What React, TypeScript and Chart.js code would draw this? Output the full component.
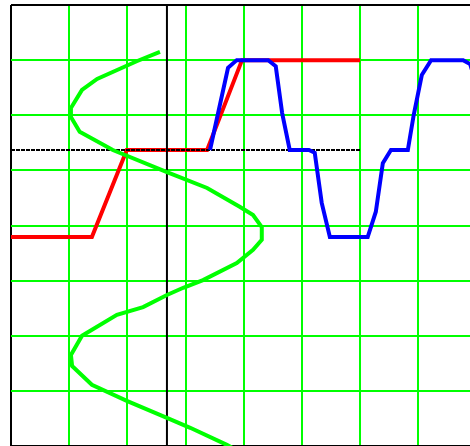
import React, { useEffect, useRef } from "react";
import { Chart, registerables } from "chart.js";

Chart.register(...registerables);

// Plot window (grid units, one grid cell = 1)
const xMin = -2.68;
const xMax = 5.32;
const yMin = -5.37;
const yMax = 2.63;
const gridCells = 8;

// Quantizer characteristic: input -> output level
const quantX = [-2.68, -1.29, -0.69, 0.69, 1.29, 3.32];
const quantY = [-1.58, -1.58, 0, 0, 1.63, 1.63];

// Quantized output against time (time runs to the right)
const outX = [0.74, 1.05, 1.2, 1.74, 1.87, 1.98, 2.11, 2.44, 2.54, 2.66, 2.8, 3.45, 3.59, 3.71, 3.85, 4.14, 4.24, 4.38, 4.54, 5.09, 5.21, 5.4];
const outY = [0, 1.49, 1.63, 1.63, 1.52, 0.67, 0, 0, -0.05, -0.96, -1.58, -1.58, -1.12, -0.24, 0, 0, 0.63, 1.36, 1.63, 1.63, 1.56, 0.9];

// Input signal against time (time runs downward)
const inX = [-0.12, -0.52, -1.2, -1.46, -1.65, -1.65, -1.5, -0.93, 0, 0.69, 1.25, 1.48, 1.63, 1.63, 1.48, 1.2, 0.62, 0.28, 0, -0.41, -0.86, -1.46, -1.65, -1.63, -1.29, -0.69, 0, 0.4, 1.03, 1.34];
const inY = [1.78, 1.61, 1.29, 1.09, 0.76, 0.6, 0.33, 0, -0.4, -0.69, -1.03, -1.18, -1.4, -1.63, -1.81, -2.05, -2.36, -2.5, -2.63, -2.85, -2.99, -3.37, -3.72, -3.92, -4.26, -4.55, -4.86, -5.04, -5.35, -5.53];

// Coordinate axes
const hAxisX = [xMin, 3.32];
const hAxisY = [0, 0];
const vAxisX = [0, 0];
const vAxisY = [yMin, yMax];

const pts = (xs: number[], ys: number[]) => xs.map((x, i) => ({ x, y: ys[i] }));

const gridTicks = (min: number) => (scale: any) => {
  scale.ticks = Array.from({ length: gridCells + 1 }, (_, k) => ({ value: min + k }));
};

const gridColor = (ctx: any) => (ctx.index === 0 || ctx.index === gridCells ? "#000000" : "#00ff00");
const gridWidth = (ctx: any) => 2;

export default function App() {
  const canvasRef = useRef<HTMLCanvasElement | null>(null);

  useEffect(() => {
    const canvas = canvasRef.current;
    if (!canvas) return;
    const chart = new Chart(canvas, {
      type: "line",
      data: {
        datasets: [
          {
            data: pts(inX, inY),
            borderColor: "#00ff00",
            borderWidth: 4,
            order: 0,
          },
          {
            data: pts(outX, outY),
            borderColor: "#0000ff",
            borderWidth: 4,
            order: 1,
          },
          {
            data: pts(hAxisX, hAxisY),
            borderColor: "#000000",
            borderWidth: 2,
            borderDash: [4, 1],
            order: 2,
          },
          {
            data: pts(vAxisX, vAxisY),
            borderColor: "#000000",
            borderWidth: 2,
            order: 2,
          },
          {
            data: pts(quantX, quantY),
            borderColor: "#ff0000",
            borderWidth: 4,
            order: 3,
          },
        ],
      },
      options: {
        animation: false,
        responsive: false,
        devicePixelRatio: 1,
        layout: { padding: { left: 11, right: 3.5, top: 5, bottom: 2 } },
        elements: { point: { radius: 0, hoverRadius: 0 }, line: { tension: 0, fill: false } },
        plugins: { legend: { display: false }, tooltip: { enabled: false } },
        events: [],
        scales: {
          x: {
            type: "linear",
            min: xMin,
            max: xMax,
            afterBuildTicks: gridTicks(xMin),
            ticks: { display: false },
            border: { display: false },
            grid: { color: gridColor, lineWidth: gridWidth, drawTicks: false },
          },
          y: {
            type: "linear",
            min: yMin,
            max: yMax,
            afterBuildTicks: gridTicks(yMin),
            ticks: { display: false },
            border: { display: false },
            grid: { color: gridColor, lineWidth: gridWidth, drawTicks: false },
          },
        },
      },
    });
    return () => chart.destroy();
  }, []);

  return (
    <div
      style={{
        position: "fixed",
        left: 0,
        top: 0,
        width: 470,
        height: 446,
        overflow: "hidden",
        background: "#ffffff",
      }}
    >
      <canvas ref={canvasRef} width={480} height={448} style={{ width: 480, height: 448, display: "block" }} />
    </div>
  );
}
